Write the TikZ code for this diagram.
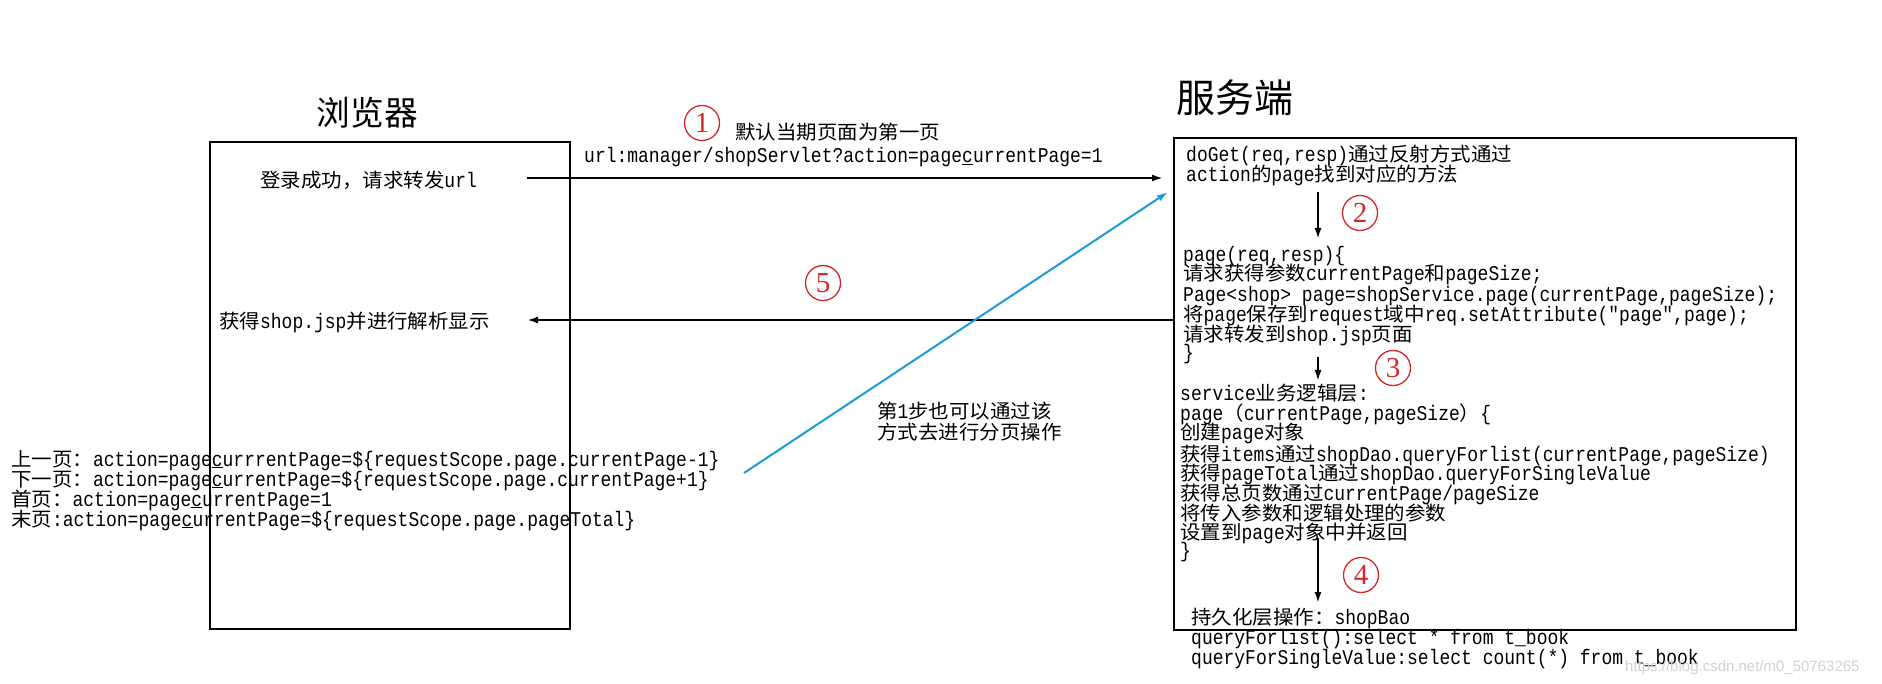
\documentclass[tikz,border=0pt]{standalone}
\usepackage{fontspec}
\setmonofont{Liberation Mono}[FakeStretch=0.857]
\newfontfamily\cjk{Noto Sans CJK SC}
\newfontfamily\cjkw{Noto Sans CJK SC}[FakeStretch=1.05]
\newfontfamily\numfont{Liberation Serif}
\newfontfamily\wmfont{Liberation Sans}
\usetikzlibrary{arrows.meta}
\newcommand\zh[1]{{\cjkw\fontsize{19.5}{20}\selectfont #1}}
\definecolor{cred}{RGB}{212,40,40}
\definecolor{cblue}{RGB}{30,155,215}
\tikzset{
  code/.style={anchor=base west, inner sep=0pt, font=\ttfamily\fontsize{21}{21}\selectfont},
  circnum/.style={circle, draw=cred, line width=1.3pt, minimum size=35pt, inner sep=0pt, text=cred, font=\numfont\fontsize{29}{29}\selectfont},
  box/.style={draw, line width=2pt, inner sep=0pt, anchor=north west},
  arr/.style={line width=2pt, -{Latex[length=11pt,width=7pt]}},
  title/.style={inner sep=0pt},
}
\begin{document}
\begin{tikzpicture}[x=1pt,y=-1pt]
\useasboundingbox (0,0) rectangle (1882,684);
% boxes
\node[box, minimum width=360pt, minimum height=487pt] (browser) at (209,141) {};
\node[box, minimum width=622pt, minimum height=492pt] (server) at (1173,137) {};
% titles
\node[title, font=\cjk\fontsize{33.7}{34}\selectfont] (btitle) at (367.5,113) {浏览器};
\node[title, font=\cjk\fontsize{39}{40}\selectfont] (stitle) at (1235,98) {服务端};
% browser texts
\node[code] (login) at (260,187.5) {\zh{登录成功，请求转发}url};
\node[code] (show) at (219,328.5) {\zh{获得}shop.jsp\zh{并进行解析显示}};
% top label
\node[circnum] (n1) at (702,123) {1};
\node[code] (note1) at (735,139.5) {\zh{默认当期页面为第一页}};
\node[code] (url) at (584,162.5) {url:manager/shopServlet?action=page\underline{c}urrentPage=1};
% arrow 1 and 5
\coordinate (a1s) at (527,178);
\coordinate (a1e) at (1163,178);
\draw[arr] (a1s) -- (a1e);
\node[circnum] (n5) at (823,283) {5};
\coordinate (a5s) at (1173,320);
\coordinate (a5e) at (527,320);
\draw[arr] (a5s) -- (a5e);
% blue arrow
\coordinate (bs) at (744,473);
\coordinate (be) at (1168,192);
\draw[arr, cblue] (bs) -- (be);
\node[code] (bn1) at (877,418.5) {\zh{第}1\zh{步也可以通过该}};
\node[code] (bn2) at (877,439.5) {\zh{方式去进行分页操作}};
% left bottom links
\node[code] (prev) at (11,466) {\zh{上一页：}action=page\underline{c}urrrentPage=\$\{requestScope.page.currentPage-1\}};
\node[code] (next) at (11,486) {\zh{下一页：}action=page\underline{c}urrentPage=\$\{requestScope.page.currentPage+1\}};
\node[code] (first) at (11,506) {\zh{首页：}action=page\underline{c}urrentPage=1};
\node[code] (last) at (11,526) {\zh{末页}:action=page\underline{c}urrentPage=\$\{requestScope.page.pageTotal\}};
% server block 1
\node[code] (s1a) at (1186,161.5) {doGet(req,resp)\zh{通过反射方式通过}};
\node[code] (s1b) at (1186,181.5) {action\zh{的}page\zh{找到对应的方法}};
\coordinate (a2s) at (1318,192);
\coordinate (a2e) at (1318,239);
\draw[arr] (a2s) -- (a2e);
\node[circnum] (n2) at (1360,213) {2};
% server block 2
\node[code] (s2a) at (1183,261.5) {page(req,resp)\{};
\node[code] (s2b) at (1183,281) {\zh{请求获得参数}currentPage\zh{和}pageSize;};
\node[code] (s2c) at (1183,301.5) {Page<shop> page=shopService.page(currentPage,pageSize);};
\node[code] (s2d) at (1183,321.5) {\zh{将}page\zh{保存到}request\zh{域中}req.setAttribute("page",page);};
\node[code] (s2e) at (1183,341.5) {\zh{请求转发到}shop.jsp\zh{页面}};
\node[code] (s2f) at (1183,359.5) {\}};
\coordinate (a3s) at (1318,357);
\coordinate (a3e) at (1318,381);
\draw[arr] (a3s) -- (a3e);
\node[circnum] (n3) at (1393,368) {3};
% server block 3
\node[code] (s3a) at (1180,400.5) {service\zh{业务逻辑层}:};
\node[code] (s3b) at (1180,420.5) {page\zh{（}currentPage,pageSize\zh{）}\{};
\node[code] (s3c) at (1180,439.5) {\zh{创建}page\zh{对象}};
\node[code] (s3d) at (1180,461) {\zh{获得}items\zh{通过}shopDao.queryForlist(currentPage,pageSize)};
\node[code] (s3e) at (1180,480.5) {\zh{获得}pageTotal\zh{通过}shopDao.queryForSingleValue};
\node[code] (s3f) at (1180,500.5) {\zh{获得总页数通过}currentPage/pageSize};
\node[code] (s3g) at (1180,520.5) {\zh{将传入参数和逻辑处理的参数}};
\node[code] (s3h) at (1180,539) {\zh{设置到}page\zh{对象中并返回}};
\node[code] (s3i) at (1180,557.5) {\}};
\coordinate (a4s) at (1318,538);
\coordinate (a4e) at (1318,603);
\draw[arr] (a4s) -- (a4e);
\node[circnum] (n4) at (1361,575) {4};
% persistence
\node[code] (p1) at (1191,624.5) {\zh{持久化层操作：}shopBao};
\node[code] (p2) at (1191,644.5) {queryForlist():select * from t\_book};
\node[code] (p3) at (1191,664.5) {queryForSingleValue:select count(*) from t\_book};
% watermark
\node[anchor=base west, inner sep=0pt, font=\wmfont\fontsize{15}{15}\selectfont, text=black!18] (wm) at (1625,671) {https://blog.csdn.net/m0\_50763265};
\end{tikzpicture}
\end{document}
